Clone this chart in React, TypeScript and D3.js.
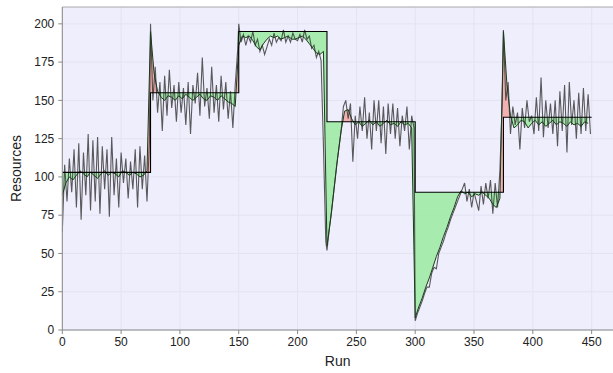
import React from "react";
import * as d3 from "d3";

// Segment starts (runs) and target levels
const segStarts = [0, 75, 150, 225, 300, 375];
const segEnd = 450;
const targets = [103, 155, 195, 136, 90, 139];

// Raw resources, every 2 runs from each segment start
const raw1 = [64, 108, 84, 112, 90, 118, 80, 122, 72, 116, 88, 128, 78, 124, 84, 126, 76, 120, 92, 118, 74, 126, 88, 112, 80, 116, 96, 112, 86, 110, 92, 118, 80, 120, 92, 114, 84, 122];
const raw2 = [200, 150, 172, 142, 162, 130, 166, 140, 170, 145, 160, 136, 162, 142, 158, 134, 162, 128, 160, 148, 168, 140, 178, 146, 158, 138, 172, 142, 160, 136, 166, 144, 162, 138, 156, 132, 160, 182];
const raw3 = [200, 188, 193, 186, 192, 188, 195, 186, 190, 182, 186, 180, 185, 190, 186, 194, 188, 191, 189, 196, 188, 192, 188, 194, 190, 189, 193, 188, 196, 190, 192, 184, 186, 178, 182, 176, 120, 58];
const raw4 = [52, 66, 78, 92, 106, 118, 130, 146, 150, 138, 148, 110, 140, 125, 146, 130, 152, 125, 142, 118, 150, 130, 150, 122, 146, 115, 148, 128, 148, 125, 145, 120, 140, 130, 146, 118, 140, 132];
const raw5 = [6, 11, 15, 19, 24, 28, 28, 37, 41, 40, 50, 54, 58, 63, 67, 72, 76, 80, 84, 88, 92, 96, 84, 92, 80, 90, 84, 78, 94, 82, 96, 86, 98, 76, 96, 80, 104, 150];
const raw6 = [196, 150, 162, 128, 146, 134, 142, 118, 145, 132, 150, 136, 140, 128, 152, 130, 165, 126, 150, 132, 148, 128, 150, 120, 156, 130, 160, 116, 162, 134, 150, 125, 155, 128, 158, 130, 154, 128];
const rawSegs = [raw1, raw2, raw3, raw4, raw5, raw6];
const rawStep = 2;

// Smoothed resources, every 3 runs from each segment start
const sm1 = [88, 96, 100, 98, 101, 104, 102, 100, 103, 101, 99, 102, 104, 101, 103, 102, 100, 104, 103, 101, 103, 102, 100, 101, 104];
const sm2 = [195, 168, 156, 152, 150, 153, 152, 150, 153, 151, 154, 152, 150, 152, 154, 151, 150, 153, 152, 150, 153, 151, 149, 148, 146];
const sm3 = [186, 192, 191, 192, 189, 185, 183, 187, 190, 192, 191, 192, 190, 191, 192, 190, 190, 191, 192, 190, 187, 184, 181, 180, 182];
const sm4 = [55, 72, 92, 112, 130, 143, 144, 138, 134, 136, 133, 135, 137, 134, 136, 133, 135, 137, 134, 135, 133, 136, 134, 135, 132];
const sm5 = [8, 15, 21, 28, 34, 41, 48, 54, 61, 67, 74, 80, 87, 91, 89, 90, 87, 89, 88, 90, 88, 86, 82, 80, 86];
const sm6 = [195, 160, 140, 132, 134, 137, 136, 132, 135, 137, 134, 136, 133, 135, 137, 134, 136, 135, 133, 136, 134, 135, 133, 136, 135];
const smSegs = [sm1, sm2, sm3, sm4, sm5, sm6];
const smStep = 3;

const xTicks = [0, 50, 100, 150, 200, 250, 300, 350, 400, 450];
const yTicks = [0, 25, 50, 75, 100, 125, 150, 175, 200];

type P = { x: number; y: number };

export default function App() {
  const W = 613, H = 373;
  const left = 62.3, top = 7, bottom = 330, right = 614;
  const x = d3.scaleLinear().domain([0, 469]).range([left, right]);
  const y = d3.scaleLinear().domain([0, 211]).range([bottom, top]);

  const rawPts: P[] = [];
  rawSegs.forEach((s, k) => s.forEach((v, i) => rawPts.push({ x: segStarts[k] + i * rawStep, y: v })));
  const smPts: P[] = [];
  smSegs.forEach((s, k) => s.forEach((v, i) => smPts.push({ x: segStarts[k] + i * smStep, y: v })));
  const tgtPts: P[] = segStarts.map((s, k) => ({ x: s, y: targets[k] }));
  tgtPts.push({ x: segEnd, y: targets[targets.length - 1] });

  const line = d3.line<P>().x(d => x(d.x)).y(d => y(d.y));
  const stepLine = d3.line<P>().x(d => x(d.x)).y(d => y(d.y)).curve(d3.curveStepAfter);
  const aboveClip = d3.area<P>().x(d => x(d.x)).y0(d => y(d.y)).y1(top - 50).curve(d3.curveStepAfter);
  const belowClip = d3.area<P>().x(d => x(d.x)).y0(d => y(d.y)).y1(bottom + 50).curve(d3.curveStepAfter);
  const underSm = d3.area<P>().x(d => x(d.x)).y0(bottom + 50).y1(d => y(d.y));
  const overSm = d3.area<P>().x(d => x(d.x)).y0(top - 50).y1(d => y(d.y));

  const axisCol = "#8a8a8a";
  const font = "Liberation Sans, Arial, sans-serif";

  return (
    <svg width={W} height={H} style={{ position: "absolute", left: 0, top: 0 }} fontFamily={font}>
      <defs>
        <clipPath id="above"><path d={aboveClip(tgtPts) || ""} /></clipPath>
        <clipPath id="below"><path d={belowClip(tgtPts) || ""} /></clipPath>
        <clipPath id="plot"><rect x={left} y={top} width={right - left} height={bottom - top} /></clipPath>
      </defs>
      <rect x={0} y={0} width={W} height={H} fill="#ffffff" />
      <rect x={left} y={top} width={right - left} height={bottom - top} fill="#eeeefc" />
      {xTicks.map(t => (
        <line key={"gx" + t} x1={x(t)} x2={x(t)} y1={top} y2={bottom} stroke="#e3e3f3" strokeWidth={1} />
      ))}
      {yTicks.map(t => (
        <line key={"gy" + t} x1={left} x2={right} y1={y(t)} y2={y(t)} stroke="#e3e3f3" strokeWidth={1} />
      ))}
      <g clipPath="url(#plot)">
        <g clipPath="url(#above)">
          <path d={underSm(smPts) || ""} fill="#f2a4a4" fillOpacity={0.85} />
        </g>
        <g clipPath="url(#below)">
          <path d={overSm(smPts) || ""} fill="#9eeaa6" fillOpacity={0.9} />
        </g>
        <path d={line(rawPts) || ""} fill="none" stroke="#333" strokeOpacity={0.8} strokeWidth={1.1} />
        <path d={line(smPts) || ""} fill="none" stroke="#1c3a1c" strokeWidth={1} />
        <path d={stepLine(tgtPts) || ""} fill="none" stroke="#000" strokeWidth={1.1} />
      </g>
      <line x1={left} x2={right} y1={top} y2={top} stroke="#a8a8a8" />
      <line x1={left} x2={left} y1={top} y2={bottom} stroke={axisCol} />
      <line x1={left} x2={right} y1={bottom} y2={bottom} stroke={axisCol} />
      {yTicks.map(t => (
        <g key={"ty" + t}>
          <line x1={left - 4} x2={left} y1={y(t)} y2={y(t)} stroke={axisCol} />
          <text x={left - 8} y={y(t)} dy="0.35em" textAnchor="end" fontSize={12} fill="#222">{t}</text>
        </g>
      ))}
      {xTicks.map(t => (
        <g key={"tx" + t}>
          <line x1={x(t)} x2={x(t)} y1={bottom} y2={bottom + 4} stroke={axisCol} />
          <text x={x(t)} y={bottom + 16} textAnchor="middle" fontSize={12} fill="#222">{t}</text>
        </g>
      ))}
      <text x={(left + 613) / 2} y={366} textAnchor="middle" fontSize={14} fill="#222">Run</text>
      <text transform={`translate(21,${(top + bottom) / 2}) rotate(-90)`} textAnchor="middle" fontSize={14} fill="#222">Resources</text>
    </svg>
  );
}
